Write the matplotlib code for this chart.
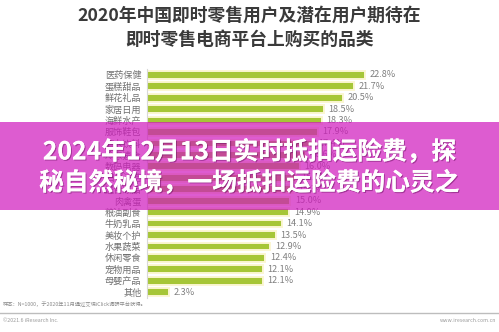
import matplotlib.pyplot as plt
import matplotlib.patheffects as pe
from matplotlib.patches import Rectangle

plt.rcParams['font.family'] = ['Noto Sans CJK SC', 'DejaVu Sans']

# 品类 and share of respondents (%), top to bottom
categories = ["医药保健", "蛋糕甜品", "鲜花礼品", "家居日用", "海鲜水产", "服饰鞋包",
              "酒水饮料", "冷冻速食", "数码电器", "日化清洁", "速食冻品", "肉禽蛋",
              "粮油副食", "牛奶乳品", "美妆个护", "水果蔬菜", "休闲零食", "宠物用品",
              "母婴产品", "其他"]
values = [22.8, 21.7, 20.5, 18.5, 18.3, 17.9, 17.4, 16.6, 16.0, 15.6, 15.3, 15.0,
          14.9, 14.1, 13.5, 12.9, 12.4, 12.1, 12.1, 2.3]

title_lines = ["2020年中国即时零售用户及潜在用户期待在", "即时零售电商平台上购买的品类"]
banner_lines = ["2024年12月13日实时抵扣运险费，探", "秘自然秘境，一场抵扣运险费的心灵之"]
note = "样本：N=1000，于2020年11月通过艾瑞iClick调研平台获得。"

W, H = 499, 332
fig = plt.figure(figsize=(W / 100, H / 100), dpi=100)
fig.patch.set_facecolor("white")

# plot area in pixel coords
x0, x1 = 147, 499
y_top, y_bot = 69, 298
ax = fig.add_axes([x0 / W, 1 - y_bot / H, (x1 - x0) / W, (y_bot - y_top) / H])
ax.set_facecolor("none")

pos = list(range(len(categories)))
ax.barh(pos, values, height=0.68, color="#a6c637", edgecolor="#fbf6d2", linewidth=1.4)
ax.set_ylim(len(categories) - 0.5, -0.5)
ax.set_xlim(0, (x1 - x0) / 9.55)

for p, v in zip(pos, values):
    ax.text(v + 0.5, p, f"{v:.1f}%", va="center", ha="left", fontsize=6.6, color="#808080")

ax.set_yticks(pos)
ax.set_yticklabels(categories, fontsize=6.6, color="#707070")
ax.tick_params(axis="y", length=0, pad=4)
ax.set_xticks([])
for s in ["top", "right", "bottom"]:
    ax.spines[s].set_visible(False)
ax.spines["left"].set_color("#d8d8d8")
ax.spines["left"].set_linewidth(0.8)

# title
fig.text(0.5, 1 - 16 / H, title_lines[0], ha="center", va="center",
         fontsize=12.8, fontweight="bold", color="#3a3a3a")
fig.text(0.5, 1 - 40 / H, title_lines[1], ha="center", va="center",
         fontsize=12.8, fontweight="bold", color="#3a3a3a")

# footer
fig.text(3 / W, 1 - 304 / H, note, ha="left", va="center", fontsize=3.8, color="#8a8a8a")
fig.add_artist(plt.Line2D([0, 1], [1 - 313 / H, 1 - 313 / H], color="#bdbdbd", linewidth=1.0))
fig.text(3 / W, 1 - 321 / H, "©2021.6 iResearch Inc.", ha="left", va="center",
         fontsize=3.8, color="#9a9a9a")
fig.text(1 - 3 / W, 1 - 321 / H, "www.iresearch.com.cn", ha="right", va="center",
         fontsize=3.8, color="#9a9a9a")

# magenta banner overlay
fig.add_artist(Rectangle((0, 1 - 210 / H), 1, 88 / H, transform=fig.transFigure,
                         facecolor="#d019bd", alpha=0.71, edgecolor="none"))
shadow = [pe.withSimplePatchShadow(offset=(0.8, -0.8), shadow_rgbFace="#6a1060", alpha=0.5),
          pe.Normal()]
fig.text(0.5, 1 - 152 / H, banner_lines[0], ha="center", va="center", fontsize=17.8,
         fontweight="bold", color="white", path_effects=shadow)
fig.text(0.5, 1 - 183 / H, banner_lines[1], ha="center", va="center", fontsize=17.8,
         fontweight="bold", color="white", path_effects=shadow)

fig.savefig("out.png", dpi=100)
